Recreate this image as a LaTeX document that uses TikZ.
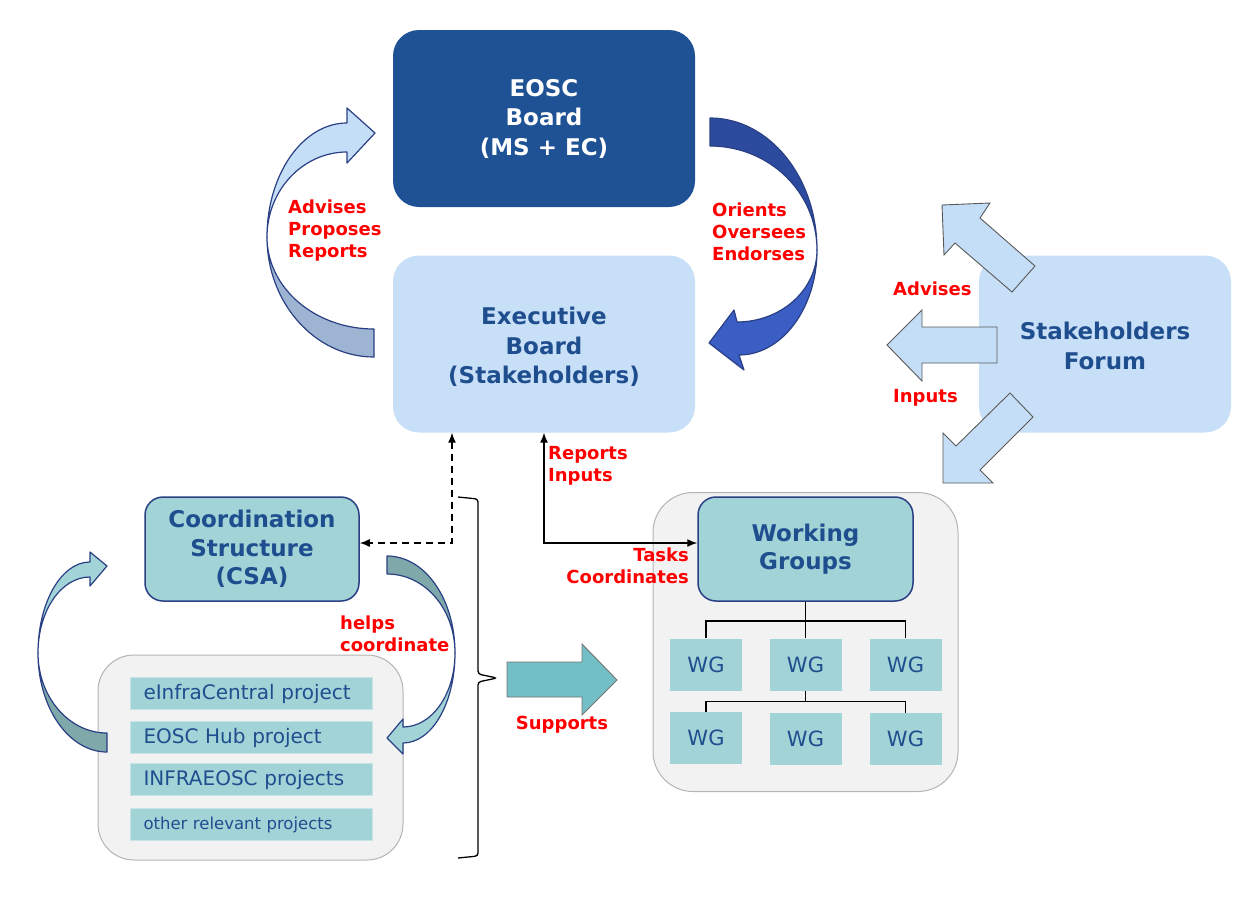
\documentclass[tikz,border=0pt]{standalone}
\usepackage{fontspec}
\setmainfont{DejaVu Sans}
\usetikzlibrary{arrows.meta,calc}
\definecolor{eoscblue}{HTML}{1F5294}
\definecolor{lightblue}{HTML}{C8DFF8}
\definecolor{titleblue}{HTML}{1F4E8F}
\definecolor{tealbox}{HTML}{A2D3D7}
\definecolor{tealdark}{HTML}{7FA8AB}
\definecolor{supteal}{HTML}{72BFC5}
\definecolor{greybg}{HTML}{F2F2F2}
\definecolor{greyline}{HTML}{B4B4B4}
\definecolor{navy}{HTML}{2A3F84}
\definecolor{lblred}{HTML}{FF0000}
\definecolor{arrowlight}{HTML}{C5DEF8}
\definecolor{arrowgrey}{HTML}{9DB4D2}
\definecolor{darknavy}{HTML}{2D4B9E}
\definecolor{brightblue}{HTML}{3A5EC4}
\tikzset{
  bigbox/.style={rounded corners=26pt, inner sep=0pt, align=center,
    font=\fontsize{23}{29.5}\selectfont\bfseries},
  midbox/.style={rounded corners=18pt, inner sep=0pt, align=center,
    fill=tealbox, draw=navy, line width=1.5pt, text=titleblue,
    font=\fontsize{23}{28.5}\selectfont\bfseries},
  container/.style={rounded corners=36pt, fill=greybg, draw=greyline, line width=1pt, inner sep=0pt},
  wgbox/.style={fill=tealbox, minimum width=72pt, minimum height=52pt, inner sep=0pt,
    text=titleblue, font=\fontsize{21}{25}\selectfont},
  projbar/.style={fill=tealbox, draw=tealbox!60!white, line width=1pt, anchor=west,
    inner xsep=13pt, inner ysep=0pt, text width=216pt, align=left,
    minimum height=32pt, text=titleblue},
  redlbl/.style={text=lblred, font=\fontsize{18}{22}\selectfont\bfseries, inner sep=0pt},
  curvout/.style={draw=navy, line width=1.2pt, line join=round},
  sfarrow/.style={fill=arrowlight, draw=black!65, line width=0.9pt},
  conn/.style={line width=1.4pt, >={Latex[length=10pt,width=8pt]}},
  dashconn/.style={dash pattern=on 7pt off 5pt},
  treeline/.style={line width=1.5pt}
}
\begin{document}
\begin{tikzpicture}[x=1pt,y=-1pt]
\useasboundingbox (0,0) rectangle (1258,902);

% containers
\node[container, minimum width=305pt, minimum height=205pt] (projc) at (250.5,757.5) {};
\node[container, rounded corners=40pt, minimum width=305pt, minimum height=299pt] (wgc) at (805.5,642) {};

% main boxes
\node[bigbox, fill=eoscblue, text=white, minimum width=302pt, minimum height=177pt] (eosc) at (544,118.5) {EOSC\\Board\\(MS + EC)};
\node[bigbox, fill=lightblue, text=titleblue, minimum width=302pt, minimum height=177pt] (exec) at (544,344) {};
\node[bigbox, text=titleblue] (exectext) at (544,347) {Executive\\Board\\(Stakeholders)};
\node[bigbox, fill=lightblue, text=titleblue, minimum width=252pt, minimum height=177pt] (sf) at (1105,344) {};
\node[bigbox, text=titleblue] (sftext) at (1105,346) {Stakeholders\\Forum};
\node[midbox, minimum width=214pt, minimum height=104pt] (csa) at (252,549) {Coordination\\Structure\\(CSA)};
\node[midbox, minimum width=215pt, minimum height=104pt] (wg) at (805.5,549) {Working\\Groups};

% project bars
\node[projbar, font=\fontsize{20}{24}\selectfont] (p1) at (130,693.5) {eInfraCentral project};
\node[projbar, font=\fontsize{20}{24}\selectfont] (p2) at (130,737.5) {EOSC Hub project};
\node[projbar, font=\fontsize{20}{24}\selectfont] (p3) at (130,779.5) {INFRAEOSC projects};
\node[projbar, font=\fontsize{16.5}{20}\selectfont] (p4) at (130,824.5) {other relevant projects};

% WG boxes
\node[wgbox] (wg1) at (706,664.5) {WG};
\node[wgbox] (wg2) at (805.5,664.5) {WG};
\node[wgbox] (wg3) at (905.5,664.5) {WG};
\node[wgbox] (wg4) at (706,738) {WG};
\node[wgbox] (wg5) at (805.5,739) {WG};
\node[wgbox] (wg6) at (905.5,739) {WG};

% WG tree
\draw[treeline] (wg.south) -- (wg2.north);
\draw[treeline] (wg1.north) |- ($(wg.south)+(0,19)$) -| (wg3.north);
\draw[treeline] (wg2.south) -- ($(wg2.south)+(0,11)$);
\draw[treeline] (wg4.north) |- ($(wg2.south)+(0,11)$) -| (wg6.north);

% curved arrow EOSC loop (left)
\draw[curvout, fill=arrowgrey] (374,357) .. controls (315,357) and (267,303) .. (267,237)
  .. controls (267,288) and (315,329) .. (374,329) -- cycle;
\draw[curvout, fill=arrowlight] (267,237) .. controls (267,174) and (303,123) .. (347,123)
  -- (347,108) -- (375,133) -- (347,163) -- (347,152)
  .. controls (303,152) and (267,190) .. (267,237) -- cycle;

% curved arrow EOSC loop (right)
\draw[curvout, fill=darknavy] (710,118) .. controls (769,118) and (817,177) .. (817,250)
  .. controls (817,192) and (769,146) .. (710,146) -- cycle;
\draw[curvout, fill=brightblue] (817,250) .. controls (817,308) and (782,355) .. (739,355)
  -- (744,370) -- (709,343) -- (734,310) -- (737,322)
  .. controls (781,322) and (817,290) .. (817,250) -- cycle;

% teal curved arrow (left)
\draw[curvout, fill=tealdark] (107,752) .. controls (69,752) and (38,708) .. (38,653)
  .. controls (38,697) and (69,733) .. (107,733) -- cycle;
\draw[curvout, fill=tealbox] (38,653) .. controls (38,603) and (61,562) .. (90,562)
  -- (90,552) -- (107,566) -- (90,586) -- (90,577)
  .. controls (61,577) and (38,611) .. (38,653) -- cycle;

% teal curved arrow (right)
\draw[curvout, fill=tealdark] (387,556) .. controls (425,556) and (455,599) .. (455,653)
  .. controls (455,609) and (425,574) .. (387,574) -- cycle;
\draw[curvout, fill=tealbox] (455,653) .. controls (455,703) and (432,743) .. (403,743)
  -- (403,754) -- (387,738) -- (403,719) -- (403,727)
  .. controls (432,727) and (455,694) .. (455,653) -- cycle;

% stakeholders forum block arrows
\draw[sfarrow] (942,205) -- (990,203) -- (980,218) -- (1035,266) -- (1012,292) -- (955,243) -- (944,255) -- cycle;
\draw[sfarrow] (887,345) -- (922,310) -- (922,327) -- (997,327) -- (997,363) -- (922,363) -- (922,381) -- cycle;
\draw[sfarrow] (943,483) -- (943,433) -- (956,446) -- (1010,393) -- (1033,417) -- (980,470) -- (993,483) -- cycle;

% supports arrow
\draw[fill=supteal, draw=black!55, line width=0.9pt] (507,662) -- (582,662) -- (582,644) -- (617,680) -- (582,715) -- (582,697) -- (507,697) -- cycle;

% brace
\draw[line width=1.3pt, rounded corners=3pt] (458,497) -- (478,499) -- (478,674) -- (497,678) -- (478,682) -- (478,856) -- (458,858);

% connectors
\draw[conn, <->] (exec.south) |- ([yshift=6pt]wg.west);
\draw[conn, dashconn, <->] ([xshift=-92pt]exec.south) |- ([yshift=6pt]csa.east);

% labels
\node[redlbl, anchor=west, align=left] (lAdv) at (288,231) {Advises\\Proposes\\Reports};
\node[redlbl, anchor=west, align=left] (lOri) at (712,232) {Orients\\Oversees\\Endorses};
\node[redlbl, anchor=west] (lSFa) at (893,289) {Advises};
\node[redlbl, anchor=west] (lSFi) at (893,398) {Inputs};
\node[redlbl, anchor=west, align=left] (lRep) at (548,466) {Reports\\Inputs};
\node[redlbl, anchor=east, align=right] (lTask) at (689,566) {Tasks\\Coordinates};
\node[redlbl, anchor=west, align=left] (lHelp) at (340,634) {helps\\coordinate};
\node[redlbl] (lSup) at (562,725) {Supports};
\end{tikzpicture}
\end{document}
